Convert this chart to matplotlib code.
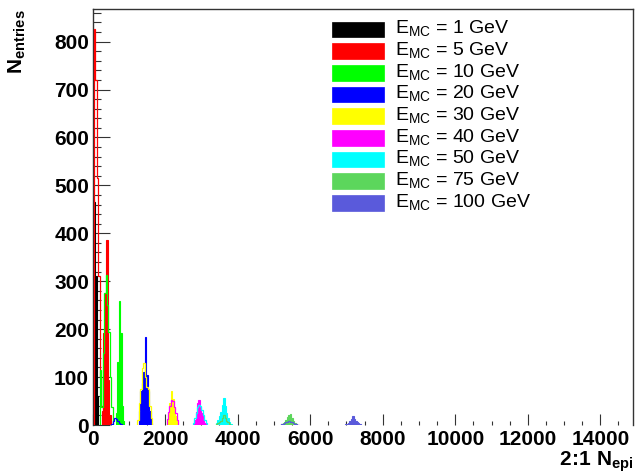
import numpy as np
import matplotlib
matplotlib.use("Agg")
import matplotlib.pyplot as plt
from matplotlib.patches import Rectangle

plt.rcParams["font.family"] = ["Liberation Sans", "DejaVu Sans"]
plt.rcParams["mathtext.fontset"] = "custom"
plt.rcParams["mathtext.rm"] = "Liberation Sans"
plt.rcParams["mathtext.bf"] = "Liberation Sans:bold"
plt.rcParams["mathtext.it"] = "Liberation Sans:italic"

# ---------------------------------------------------------------------------
# Histogram contents (bin width 40 in N_epi)
# main  = the peak at the beam energy
# tail  = the low-side component that sits under the previous energy's peak
# ---------------------------------------------------------------------------

BIN_WIDTH = 40

energies = [1, 5, 10, 20, 30, 40, 50, 75, 100]
colors   = ["#000000", "#ff0000", "#00ff00", "#0000ff", "#ffff00",
            "#ff00ff", "#00ffff", "#5cd65c", "#5a5adb"]

main_start = [0, 260, 640, 1280, 2040, 2800, 3400, 5200, 6960]
main_counts = [
    [470, 465, 310, 60],
    [30, 191, 275, 387, 94, 20],
    [25, 132, 258, 191, 40, 8],
    [30, 70, 88, 111, 184, 105, 70, 30, 5],
    [8, 20, 45, 70, 55, 35, 18, 6],
    [10, 28, 45, 52, 38, 25, 12, 4],
    [4, 10, 18, 28, 42, 57, 40, 26, 14, 6, 2],
    [2, 4, 7, 11, 16, 20, 23, 15, 9, 5, 2],
    [2, 3, 5, 8, 12, 18, 13, 9, 6, 4, 2, 1],
]

tail_start = [None, 40, 200, 520, 1240, 2040, 2760, 3400, 5160]
tail_counts = [
    [],
    [827, 720, 515, 310, 100, 40],
    [115, 38, 150, 275, 313, 250, 195, 100, 38],
    [3, 8, 15, 12, 8, 4, 2],
    [10, 46, 75, 118, 130, 100, 80, 75, 40, 15],
    [12, 28, 40, 52, 50, 38, 24, 10],
    [5, 14, 26, 38, 42, 40, 32, 20, 10, 4],
    [2, 4, 6, 9, 14, 20, 14, 9, 6, 3, 1],
    [1, 2, 3, 5, 6, 7, 8, 7, 6, 4, 3, 2, 1],
]

x_max = 14900
y_max = 868


def bin_edges(start, counts):
    return start + BIN_WIDTH * np.arange(len(counts) + 1)


# ---------------------------------------------------------------------------
# Figure
# ---------------------------------------------------------------------------

W, H = 635, 473
fig = plt.figure(figsize=(W / 100, H / 100), dpi=100)
ax = fig.add_axes([92.5 / W, 48 / H, 540.5 / W, 416 / H])

# filled peaks first, low-side components drawn over them as outlines
for start, counts, col in zip(main_start, main_counts, colors):
    ax.stairs(counts, bin_edges(start, counts), fill=True,
              facecolor=col, edgecolor=col, linewidth=0.8, zorder=2)

for start, counts, col in zip(tail_start, tail_counts, colors):
    if not counts:
        continue
    ax.stairs(counts, bin_edges(start, counts), color=col,
              linewidth=0.9, zorder=3)

ax.set_xlim(0, x_max)
ax.set_ylim(0, y_max)

ax.set_xticks(np.arange(0, 14001, 2000))
ax.set_xticks(np.arange(0, x_max, 500), minor=True)
ax.set_yticks(np.arange(0, 801, 100))
ax.set_yticks(np.arange(0, y_max, 20), minor=True)

ax.tick_params(axis="both", which="both", direction="in", colors="#333333",
               width=0.8, labelcolor="black", labelsize=15)
ax.tick_params(axis="y", which="major", length=12, pad=2.5)
ax.tick_params(axis="y", which="minor", length=6)
ax.tick_params(axis="x", which="major", length=8, pad=3.5)
ax.tick_params(axis="x", which="minor", length=3.2)
for lab in ax.get_xticklabels() + ax.get_yticklabels():
    lab.set_fontweight("bold")

for side in ["left", "top", "right"]:
    ax.spines[side].set_color("#333333")
    ax.spines[side].set_linewidth(1.0)
ax.spines["bottom"].set_visible(False)

# axis titles, placed at the axis ends
fig.text(17 / W, 1 - 9 / H, r"$\mathbf{N}_{\mathbf{entries}}$", rotation=90,
         ha="center", va="top", fontsize=15)
fig.text(633 / W, 7 / H, r"$\mathbf{2\!:\!1\ N}_{\mathbf{epi}}$",
         ha="right", va="baseline", fontsize=15)

# legend boxes and labels
row_step = 21.67
for i, (e, col) in enumerate(zip(energies, colors)):
    top = 21.7 + i * row_step
    fig.patches.append(Rectangle((332 / W, 1 - (top + 15.6) / H), 52 / W, 15.6 / H,
                                 transform=fig.transFigure, facecolor=col,
                                 edgecolor=col, linewidth=0.5))
    fig.text(395 / W, 1 - (33.3 + i * row_step) / H,
             r"E$_{\mathrm{MC}}$ = %d GeV" % e,
             ha="left", va="baseline", fontsize=14)

fig.savefig("out.png", dpi=100)
